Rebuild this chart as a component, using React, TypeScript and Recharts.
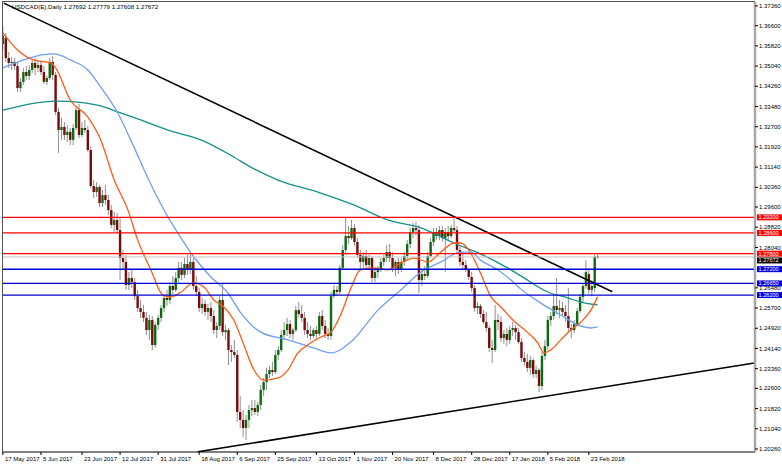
import React from 'react';
import { ComposedChart, Bar, Line, XAxis, YAxis, ReferenceLine } from 'recharts';

const tickIdx = [0, 13, 27, 40, 53, 67, 80, 93, 107, 120, 133, 147, 160, 173, 186, 200];
const tickLabels = ['17 May 2017', '5 Jun 2017', '23 Jun 2017', '12 Jul 2017', '31 Jul 2017', '18 Aug 2017', '6 Sep 2017', '25 Sep 2017', '13 Oct 2017', '1 Nov 2017', '20 Nov 2017', '8 Dec 2017', '28 Dec 2017', '17 Jan 2018', '5 Feb 2018', '23 Feb 2018'];

const priceTicks = [1.3736, 1.366, 1.3582, 1.3504, 1.3426, 1.3348, 1.327, 1.3192, 1.3114, 1.3036, 1.296, 1.2882, 1.2804, 1.2648, 1.257, 1.2492, 1.2414, 1.2336, 1.226, 1.2182, 1.2104, 1.2026];

const opens = [
  1.3589, 1.3612, 1.3535, 1.3516, 1.3520, 1.3504, 1.3419, 1.3443, 1.3481, 1.3466,
  1.3489, 1.3516, 1.3497, 1.3508, 1.3481, 1.3443, 1.3458, 1.3520, 1.3470, 1.3327,
  1.3257, 1.3269, 1.3238, 1.3250, 1.3219, 1.3265, 1.3334, 1.3238, 1.3265, 1.3257,
  1.3180, 1.3041, 1.3018, 1.3037, 1.2975, 1.3006, 1.2987, 1.2948, 1.2891, 1.2910,
  1.2871, 1.2763, 1.2748, 1.2659, 1.2686, 1.2670, 1.2616, 1.2570, 1.2555, 1.2532,
  1.2485, 1.2524, 1.2427, 1.2505, 1.2532, 1.2570, 1.2609, 1.2601, 1.2655, 1.2640,
  1.2686, 1.2725, 1.2698, 1.2740, 1.2717, 1.2748, 1.2655, 1.2632, 1.2570, 1.2586,
  1.2555, 1.2570, 1.2539, 1.2485, 1.2501, 1.2601, 1.2477, 1.2485, 1.2408, 1.2400,
  1.2389, 1.2169, 1.2138, 1.2107, 1.2138, 1.2176, 1.2184, 1.2169, 1.2196, 1.2254,
  1.2284, 1.2315, 1.2331, 1.2323, 1.2389, 1.2408, 1.2466, 1.2485, 1.2508, 1.2470,
  1.2485, 1.2562, 1.2547, 1.2532, 1.2485, 1.2470, 1.2462, 1.2485, 1.2470, 1.2539,
  1.2501, 1.2470, 1.2462, 1.2616, 1.2640, 1.2632, 1.2725, 1.2794, 1.2848, 1.2840,
  1.2879, 1.2825, 1.2775, 1.2748, 1.2771, 1.2736, 1.2763, 1.2686, 1.2709, 1.2717,
  1.2748, 1.2763, 1.2786, 1.2763, 1.2725, 1.2748, 1.2717, 1.2748, 1.2771, 1.2817,
  1.2863, 1.2879, 1.2871, 1.2678, 1.2701, 1.2694, 1.2771, 1.2825, 1.2863, 1.2848,
  1.2871, 1.2840, 1.2863, 1.2848, 1.2879, 1.2871, 1.2794, 1.2748, 1.2736, 1.2717,
  1.2690, 1.2647, 1.2570, 1.2578, 1.2547, 1.2516, 1.2493, 1.2416, 1.2408, 1.2524,
  1.2516, 1.2454, 1.2470, 1.2447, 1.2485, 1.2493, 1.2477, 1.2439, 1.2377, 1.2362,
  1.2339, 1.2369, 1.2315, 1.2331, 1.2269, 1.2385, 1.2423, 1.2524, 1.2539, 1.2578,
  1.2562, 1.2570, 1.2555, 1.2539, 1.2493, 1.2485, 1.2508, 1.2558, 1.2613, 1.2655,
  1.2701, 1.2640, 1.2647, 1.27692,
];

const highs = [
  1.3659, 1.3632, 1.3558, 1.3539, 1.3535, 1.3520, 1.3458, 1.3497, 1.3504, 1.3508,
  1.3527, 1.3535, 1.3527, 1.3520, 1.3504, 1.3466, 1.3535, 1.3543, 1.3481, 1.3342,
  1.3304, 1.3288, 1.3276, 1.3265, 1.3280, 1.3350, 1.3358, 1.3288, 1.3296, 1.3273,
  1.3195, 1.3064, 1.3056, 1.3045, 1.3026, 1.3045, 1.3006, 1.2968, 1.2941, 1.2937,
  1.2918, 1.2794, 1.2775, 1.2709, 1.2717, 1.2686, 1.2640, 1.2601, 1.2582, 1.2555,
  1.2543, 1.2539, 1.2516, 1.2543, 1.2582, 1.2620, 1.2640, 1.2670, 1.2694, 1.2709,
  1.2748, 1.2748, 1.2763, 1.2775, 1.2782, 1.2763, 1.2694, 1.2647, 1.2609, 1.2601,
  1.2586, 1.2593, 1.2562, 1.2516, 1.2616, 1.2667, 1.2505, 1.2493, 1.2427, 1.2447,
  1.2408, 1.2230, 1.2176, 1.2157, 1.2196, 1.2215, 1.2215, 1.2207, 1.2273, 1.2300,
  1.2339, 1.2347, 1.2362, 1.2408, 1.2423, 1.2485, 1.2516, 1.2532, 1.2524, 1.2493,
  1.2578, 1.2593, 1.2582, 1.2555, 1.2516, 1.2501, 1.2493, 1.2501, 1.2555, 1.2562,
  1.2524, 1.2493, 1.2632, 1.2659, 1.2655, 1.2736, 1.2813, 1.2918, 1.2887, 1.2910,
  1.2894, 1.2840, 1.2794, 1.2786, 1.2794, 1.2775, 1.2771, 1.2725, 1.2732, 1.2763,
  1.2775, 1.2813, 1.2817, 1.2786, 1.2755, 1.2763, 1.2763, 1.2786, 1.2833, 1.2879,
  1.2898, 1.2902, 1.2891, 1.2717, 1.2732, 1.2786, 1.2840, 1.2879, 1.2879, 1.2887,
  1.2887, 1.2879, 1.2887, 1.2891, 1.2922, 1.2887, 1.2813, 1.2786, 1.2755, 1.2725,
  1.2709, 1.2659, 1.2593, 1.2586, 1.2562, 1.2555, 1.2501, 1.2447, 1.2582, 1.2547,
  1.2539, 1.2485, 1.2493, 1.2501, 1.2516, 1.2505, 1.2493, 1.2454, 1.2400, 1.2393,
  1.2385, 1.2377, 1.2347, 1.2339, 1.2400, 1.2447, 1.2539, 1.2555, 1.2620, 1.2686,
  1.2601, 1.2593, 1.2582, 1.2647, 1.2508, 1.2524, 1.2570, 1.2624, 1.2667, 1.2755,
  1.2725, 1.2678, 1.2776, 1.27779,
];

const lows = [
  1.3566, 1.3520, 1.3497, 1.3489, 1.3489, 1.3404, 1.3404, 1.3431, 1.3450, 1.3450,
  1.3477, 1.3470, 1.3481, 1.3470, 1.3435, 1.3431, 1.3450, 1.3450, 1.3315, 1.3168,
  1.3219, 1.3219, 1.3211, 1.3199, 1.3199, 1.3257, 1.3226, 1.3230, 1.3246, 1.3172,
  1.3033, 1.2995, 1.2999, 1.2960, 1.2960, 1.2968, 1.2929, 1.2879, 1.2863, 1.2860,
  1.2678, 1.2717, 1.2640, 1.2640, 1.2647, 1.2601, 1.2555, 1.2532, 1.2516, 1.2466,
  1.2447, 1.2408, 1.2416, 1.2485, 1.2516, 1.2555, 1.2578, 1.2586, 1.2624, 1.2632,
  1.2670, 1.2678, 1.2686, 1.2698, 1.2701, 1.2640, 1.2616, 1.2555, 1.2547, 1.2539,
  1.2524, 1.2516, 1.2470, 1.2454, 1.2485, 1.2462, 1.2447, 1.2350, 1.2362, 1.2377,
  1.2130, 1.2107, 1.2072, 1.2061, 1.2107, 1.2153, 1.2157, 1.2153, 1.2176, 1.2230,
  1.2254, 1.2300, 1.2308, 1.2315, 1.2369, 1.2400, 1.2447, 1.2462, 1.2454, 1.2447,
  1.2477, 1.2532, 1.2516, 1.2466, 1.2454, 1.2447, 1.2454, 1.2447, 1.2462, 1.2485,
  1.2454, 1.2447, 1.2447, 1.2609, 1.2616, 1.2624, 1.2717, 1.2775, 1.2817, 1.2833,
  1.2809, 1.2763, 1.2717, 1.2725, 1.2725, 1.2717, 1.2670, 1.2670, 1.2686, 1.2709,
  1.2732, 1.2748, 1.2748, 1.2709, 1.2694, 1.2701, 1.2709, 1.2732, 1.2755, 1.2802,
  1.2840, 1.2848, 1.2628, 1.2655, 1.2678, 1.2686, 1.2763, 1.2809, 1.2833, 1.2833,
  1.2825, 1.2709, 1.2833, 1.2840, 1.2863, 1.2779, 1.2732, 1.2717, 1.2709, 1.2678,
  1.2632, 1.2555, 1.2547, 1.2532, 1.2508, 1.2477, 1.2400, 1.2358, 1.2400, 1.2485,
  1.2439, 1.2431, 1.2423, 1.2431, 1.2462, 1.2447, 1.2431, 1.2362, 1.2347, 1.2323,
  1.2312, 1.2300, 1.2300, 1.2246, 1.2254, 1.2369, 1.2408, 1.2501, 1.2524, 1.2547,
  1.2532, 1.2539, 1.2516, 1.2477, 1.2454, 1.2473, 1.2501, 1.2551, 1.2593, 1.2644,
  1.2624, 1.2616, 1.2632, 1.27608,
];

const closes = [
  1.3620, 1.3535, 1.3516, 1.3520, 1.3504, 1.3419, 1.3443, 1.3481, 1.3466, 1.3489,
  1.3516, 1.3497, 1.3508, 1.3481, 1.3443, 1.3458, 1.3520, 1.3470, 1.3327, 1.3257,
  1.3269, 1.3238, 1.3250, 1.3219, 1.3265, 1.3334, 1.3238, 1.3265, 1.3257, 1.3180,
  1.3041, 1.3018, 1.3037, 1.2975, 1.3006, 1.2987, 1.2948, 1.2891, 1.2910, 1.2871,
  1.2763, 1.2748, 1.2659, 1.2686, 1.2670, 1.2616, 1.2570, 1.2555, 1.2532, 1.2485,
  1.2524, 1.2427, 1.2505, 1.2532, 1.2570, 1.2609, 1.2601, 1.2655, 1.2640, 1.2686,
  1.2725, 1.2698, 1.2740, 1.2717, 1.2748, 1.2655, 1.2632, 1.2570, 1.2586, 1.2555,
  1.2570, 1.2539, 1.2485, 1.2501, 1.2601, 1.2477, 1.2485, 1.2408, 1.2400, 1.2389,
  1.2169, 1.2138, 1.2107, 1.2138, 1.2176, 1.2184, 1.2169, 1.2196, 1.2254, 1.2284,
  1.2315, 1.2331, 1.2323, 1.2389, 1.2408, 1.2466, 1.2485, 1.2508, 1.2470, 1.2485,
  1.2562, 1.2547, 1.2532, 1.2485, 1.2470, 1.2462, 1.2485, 1.2470, 1.2539, 1.2501,
  1.2470, 1.2462, 1.2616, 1.2640, 1.2632, 1.2725, 1.2794, 1.2848, 1.2840, 1.2879,
  1.2825, 1.2775, 1.2748, 1.2771, 1.2736, 1.2763, 1.2686, 1.2709, 1.2717, 1.2748,
  1.2763, 1.2786, 1.2763, 1.2725, 1.2748, 1.2717, 1.2748, 1.2771, 1.2817, 1.2863,
  1.2879, 1.2871, 1.2678, 1.2701, 1.2694, 1.2771, 1.2825, 1.2863, 1.2848, 1.2871,
  1.2840, 1.2863, 1.2848, 1.2879, 1.2871, 1.2794, 1.2748, 1.2736, 1.2717, 1.2690,
  1.2647, 1.2570, 1.2578, 1.2547, 1.2516, 1.2493, 1.2416, 1.2408, 1.2524, 1.2516,
  1.2454, 1.2470, 1.2447, 1.2485, 1.2493, 1.2477, 1.2439, 1.2377, 1.2362, 1.2339,
  1.2369, 1.2315, 1.2331, 1.2269, 1.2385, 1.2423, 1.2524, 1.2539, 1.2578, 1.2562,
  1.2570, 1.2555, 1.2539, 1.2493, 1.2485, 1.2508, 1.2558, 1.2613, 1.2655, 1.2709,
  1.2640, 1.2655, 1.2768, 1.27672,
];

// moving averages: [bar index, price]
const fastMA: [number, number][] = [
  [0, 1.3632], [5, 1.3566], [10.6, 1.3527], [16.4, 1.3516], [18, 1.3497], [23, 1.3373], [29, 1.3307],
  [33.4, 1.3219], [38, 1.3064], [42.7, 1.2948], [46, 1.2833], [50.5, 1.2717], [54.6, 1.262], [57.3, 1.2613],
  [60.8, 1.2632], [65, 1.2667], [68.6, 1.2651], [72, 1.2601], [75.4, 1.2574], [78.8, 1.2524], [82, 1.2435],
  [85.7, 1.2331], [89, 1.2292], [94, 1.23], [97.3, 1.2331], [100.7, 1.2397], [104, 1.2427], [108.5, 1.2458],
  [112, 1.2477], [115.4, 1.2547], [118.8, 1.2647], [122, 1.2717], [126.6, 1.2725], [131.4, 1.2717],
  [135.8, 1.2744], [140.3, 1.2763], [145, 1.2748], [149.5, 1.2786], [154, 1.2821], [156.3, 1.2821],
  [159.7, 1.2782], [163, 1.2705], [166.6, 1.2613], [170, 1.2574], [174.4, 1.252], [179, 1.2477],
  [182.6, 1.2435], [184.6, 1.2397], [187, 1.2408], [190.4, 1.2447], [193.8, 1.2485], [197.3, 1.2516],
  [200.7, 1.2562], [203, 1.2613],
];

const midMA: [number, number][] = [
  [0, 1.3497], [17.4, 1.3551], [23.2, 1.3527], [29, 1.3489], [33.4, 1.3423], [39.2, 1.3323], [44.7, 1.3192],
  [49.8, 1.3064], [56.3, 1.2922], [59.7, 1.286], [65.2, 1.2767], [71, 1.269], [76.8, 1.2628], [81.2, 1.2551],
  [88, 1.2477], [97.3, 1.2447], [106, 1.2416], [112, 1.2397], [118.8, 1.2439], [128, 1.2562], [135.8, 1.264],
  [142.7, 1.2709], [149.5, 1.2748], [156.3, 1.2786], [159.7, 1.2786], [163, 1.2755], [169, 1.2717],
  [173.4, 1.2678], [176.8, 1.2643], [183.6, 1.2589], [190.4, 1.2543], [196.2, 1.2505], [200.7, 1.2493],
  [203, 1.2497],
];

const slowMA: [number, number][] = [
  [0, 1.3334], [18.8, 1.3369], [25.6, 1.3365], [33.4, 1.335], [39.2, 1.3327], [47, 1.3296], [56.3, 1.3257],
  [67.6, 1.3219], [78.8, 1.3153], [84.6, 1.3114], [93.9, 1.3064], [108.5, 1.3014], [119.8, 1.2968],
  [131.4, 1.291], [142.7, 1.2879], [154, 1.2821], [163, 1.2779], [172.4, 1.2724], [176.8, 1.2694],
  [186, 1.2632], [192.8, 1.2609], [197.3, 1.2593], [203, 1.2582],
];

const upperTrend = [{ x: 0.3, y: 1.3747 }, { x: 208, y: 1.2633 }];
const lowerTrend = [{ x: 66.55, y: 1.2015 }, { x: 256.5, y: 1.2358 }];

const redLevels = [1.292, 1.286, 1.278];
const blueLevels = [1.272, 1.2665, 1.262];
const lastPrice = 1.27672;

const candles = opens.map((o, i) => ({
  i,
  o,
  h: highs[i],
  l: lows[i],
  c: closes[i],
  hl: [lows[i], highs[i]],
}));
const toSeries = (arr: [number, number][]) => arr.map(([i, v]) => ({ i, v }));
const fastData = toSeries(fastMA);
const midData = toSeries(midMA);
const slowData = toSeries(slowMA);

const FONT = 'Liberation Sans, Arial, sans-serif';

function Candle(props: any) {
  const { x, y, width, height, payload } = props;
  if (x == null || y == null || !payload) return null;
  const top = Math.min(y, y + height);
  const span = Math.abs(height);
  const { o, h, l, c } = payload;
  const r = h - l || 1;
  const py = (v: number) => top + ((h - v) / r) * span;
  const cx = x + width / 2;
  const bTop = py(Math.max(o, c));
  const bBot = py(Math.min(o, c));
  const bull = c >= o;
  return (
    <g>
      <line x1={cx} x2={cx} y1={top} y2={top + span} stroke="#8f8f8f" strokeWidth={1} />
      <rect x={cx - 1.2} y={bTop} width={2.4} height={Math.max(bBot - bTop, 0.9)} fill={bull ? '#0d6a12' : '#7a0a0a'} />
    </g>
  );
}

function DateTick(props: any) {
  const { x, y, payload } = props;
  const k = tickIdx.indexOf(payload.value);
  return (
    <text x={x + 2} y={y + 4} fontSize={6} fontFamily={FONT} fill="#000" textAnchor="start">
      {k >= 0 ? tickLabels[k] : ''}
    </text>
  );
}

function PriceTag(props: any) {
  const { viewBox, text, bg, shift = 0 } = props;
  if (!viewBox) return null;
  const x0 = viewBox.x + viewBox.width + 2;
  const yc = viewBox.y + shift;
  return (
    <g>
      <rect x={x0} y={yc - 3} width={25} height={6} fill={bg} />
      <text x={x0 + 1.5} y={yc + 2} fontSize={5.6} fontFamily={FONT} fill="#fff">
        {text}
      </text>
    </g>
  );
}

export default function App() {
  return (
    <div style={{ position: 'absolute', left: 0, top: 0, width: 782, height: 464, background: '#fff' }}>
      <ComposedChart width={782} height={464} data={candles} margin={{ top: 2, right: 0, bottom: 0, left: 2 }}>
        <XAxis
          type="number"
          dataKey="i"
          domain={[-0.3, 256.7]}
          allowDataOverflow
          ticks={tickIdx}
          interval={0}
          tick={<DateTick />}
          tickSize={3}
          tickLine={{ stroke: '#000' }}
          axisLine={{ stroke: '#000' }}
          height={12}
        />
        <YAxis
          orientation="right"
          type="number"
          domain={[1.20143, 1.37513]}
          allowDataOverflow
          ticks={priceTicks}
          interval={0}
          tickFormatter={(v: number) => v.toFixed(5)}
          tick={{ fontSize: 6, fill: '#000', fontFamily: FONT }}
          tickSize={3}
          tickMargin={1}
          tickLine={{ stroke: '#000' }}
          axisLine={{ stroke: '#a8a8a8', strokeWidth: 2.5 }}
          width={27}
        />
        <Bar dataKey="hl" barSize={3} isAnimationActive={false} shape={(p: any) => <Candle {...p} />} />
        <Line data={slowData} dataKey="v" type="monotone" stroke="#13908c" strokeWidth={1.3} dot={false} isAnimationActive={false} />
        <Line data={midData} dataKey="v" type="monotone" stroke="#6f9ff0" strokeWidth={1.3} dot={false} isAnimationActive={false} />
        <Line data={fastData} dataKey="v" type="monotone" stroke="#ff5a14" strokeWidth={1.3} dot={false} isAnimationActive={false} />
        <ReferenceLine segment={upperTrend} stroke="#000" strokeWidth={1.6} ifOverflow="hidden" />
        <ReferenceLine segment={lowerTrend} stroke="#000" strokeWidth={1.6} ifOverflow="hidden" />
        <ReferenceLine y={lastPrice} stroke="#c4c4c4" strokeWidth={1} label={<PriceTag text={lastPrice.toFixed(5)} bg="#000" shift={3.5} />} />
        {redLevels.map((v) => (
          <ReferenceLine key={'r' + v} y={v} stroke="#ff0000" strokeWidth={1.4} label={<PriceTag text={v.toFixed(5)} bg="#ff0000" />} />
        ))}
        {blueLevels.map((v) => (
          <ReferenceLine key={'b' + v} y={v} stroke="#0000d0" strokeWidth={1.4} label={<PriceTag text={v.toFixed(5)} bg="#0000e0" />} />
        ))}
      </ComposedChart>
      <svg width={782} height={464} style={{ position: 'absolute', left: 0, top: 0, pointerEvents: 'none' }}>
        <line x1={2.5} x2={2.5} y1={1.5} y2={452} stroke="#555" strokeWidth={1} />
        <line x1={2} x2={755} y1={1.5} y2={1.5} stroke="#555" strokeWidth={1} />
        <text x={12} y={9} fontSize={6.2} fontFamily={FONT} fill="#000">
          USDCAD(E),Daily  1.27692 1.27779 1.27608 1.27672
        </text>
      </svg>
    </div>
  );
}
